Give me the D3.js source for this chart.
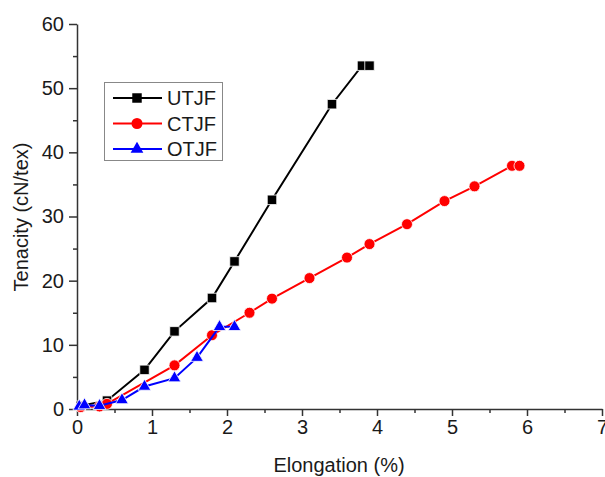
<!DOCTYPE html>
<html>
<head>
<meta charset="utf-8">
<script src="https://cdn.jsdelivr.net/npm/d3@7"></script>
<style>
  body { margin: 0; background: #fff; }
  text { font-family: "Liberation Sans", Arial, sans-serif; fill: #1a1a1a; }
</style>
</head>
<body>
<script>
// values
var utjfX = [0.05, 0.40, 0.90, 1.30, 1.80, 2.10, 2.60, 3.40, 3.80, 3.90];
var utjfY = [0.5, 1.3, 6.1, 12.1, 17.3, 23.0, 32.6, 47.5, 53.5, 53.5];
var ctjfX = [0.05, 0.30, 0.40, 1.30, 1.80, 2.30, 2.60, 3.10, 3.60, 3.90, 4.40, 4.90, 5.30, 5.80, 5.90];
var ctjfY = [0.3, 0.4, 0.8, 6.8, 11.5, 15.0, 17.2, 20.4, 23.6, 25.7, 28.8, 32.4, 34.7, 37.9, 37.9];
var otjfX = [0.03, 0.10, 0.30, 0.60, 0.90, 1.30, 1.60, 1.90, 2.10];
var otjfY = [0.4, 0.6, 0.5, 1.4, 3.5, 4.8, 8.0, 12.8, 12.8];
var xTicks = [0, 1, 2, 3, 4, 5, 6, 7];
var yTicks = [0, 10, 20, 30, 40, 50, 60];
var seriesNames = ["UTJF", "CTJF", "OTJF"];

var W = 605, H = 477;
var margin = {left: 77, right: 3, top: 24, bottom: 68};

var svg = d3.select("body").append("svg")
    .attr("width", W).attr("height", H);

var x = d3.scaleLinear().domain([0, 7]).range([margin.left, W - margin.right]);
var y = d3.scaleLinear().domain([0, 60]).range([H - margin.bottom, margin.top]);

// minor ticks
var minorX = d3.range(0.5, 7, 1);
var minorY = d3.range(5, 60, 10);

svg.append("g").attr("transform", "translate(0," + y(0) + ")")
    .call(d3.axisBottom(x).tickValues(xTicks).tickFormat(d3.format("d")).tickSize(7).tickPadding(4).tickSizeOuter(0));
svg.append("g").attr("transform", "translate(0," + y(0) + ")")
    .call(d3.axisBottom(x).tickValues(minorX).tickFormat("").tickSize(4).tickSizeOuter(0))
    .select(".domain").remove();

svg.append("g").attr("transform", "translate(" + x(0) + ",0)")
    .call(d3.axisLeft(y).tickValues(yTicks).tickFormat(d3.format("d")).tickSize(8).tickPadding(5).tickSizeOuter(0));
svg.append("g").attr("transform", "translate(" + x(0) + ",0)")
    .call(d3.axisLeft(y).tickValues(minorY).tickFormat("").tickSize(4).tickSizeOuter(0))
    .select(".domain").remove();

svg.selectAll(".domain").attr("stroke", "#333").attr("stroke-width", 1.5);
svg.selectAll(".tick line").attr("stroke", "#333").attr("stroke-width", 1.5);
svg.selectAll(".tick text").style("font-size", "20px").style("font-family", "Liberation Sans, Arial, sans-serif").attr("fill", "#1a1a1a");

// axis titles
svg.append("text")
    .attr("x", 339).attr("y", 472)
    .attr("text-anchor", "middle").style("font-size", "20px")
    .text("Elongation (%)");
svg.append("text")
    .attr("transform", "translate(28,217) rotate(-90)")
    .attr("text-anchor", "middle").style("font-size", "20px")
    .text("Tenacity (cN/tex)");

var line = d3.line().x(function(d) { return x(d[0]); }).y(function(d) { return y(d[1]); });

function pts(xs, ys) { return xs.map(function(v, i) { return [v, ys[i]]; }); }

var series = [
  {name: seriesNames[0], data: pts(utjfX, utjfY), color: "#000000", symbol: d3.symbolSquare, size: 90},
  {name: seriesNames[1], data: pts(ctjfX, ctjfY), color: "#ff0000", symbol: d3.symbolCircle, size: 95},
  {name: seriesNames[2], data: pts(otjfX, otjfY), color: "#0000ff", symbol: d3.symbolTriangle, size: 70}
];

series.forEach(function(s) {
  svg.append("path").datum(s.data)
      .attr("fill", "none").attr("stroke", s.color).attr("stroke-width", 2)
      .attr("d", line);
  svg.append("g").selectAll("path").data(s.data).enter().append("path")
      .attr("transform", function(d) { return "translate(" + x(d[0]) + "," + y(d[1]) + ")"; })
      .attr("d", d3.symbol().type(s.symbol).size(s.size))
      .attr("fill", s.color)
      .attr("stroke", "#fff").attr("stroke-width", 0.8);
});

// legend
var lg = svg.append("g");
lg.append("rect").attr("x", 104.5).attr("y", 82.5).attr("width", 118).attr("height", 78)
    .attr("fill", "#fff").attr("stroke", "#888").attr("stroke-width", 1);
series.forEach(function(s, i) {
  var yy = 98 + i * 25.5;
  lg.append("line").attr("x1", 113).attr("x2", 162).attr("y1", yy).attr("y2", yy)
      .attr("stroke", s.color).attr("stroke-width", 2);
  lg.append("path").attr("transform", "translate(137," + yy + ")")
      .attr("d", d3.symbol().type(s.symbol).size(s.size))
      .attr("fill", s.color);
  lg.append("text").attr("x", 167).attr("y", yy + 7).style("font-size", "20px").text(s.name);
});
</script>
</body>
</html>
